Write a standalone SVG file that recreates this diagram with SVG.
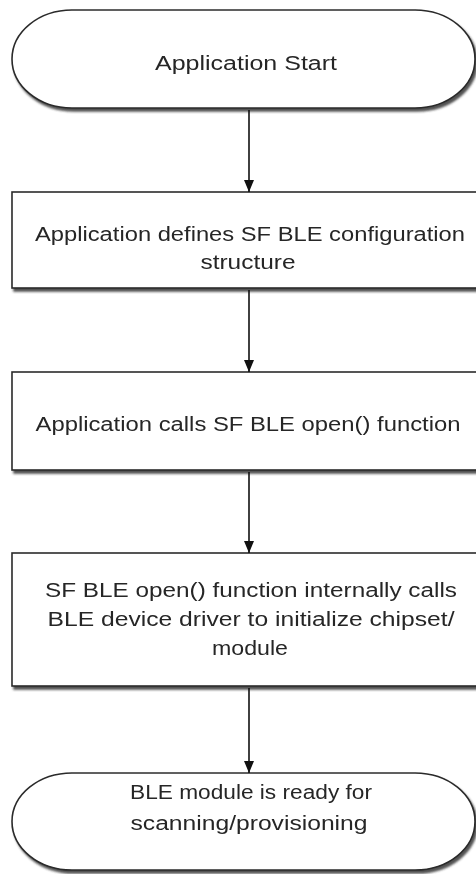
<svg xmlns="http://www.w3.org/2000/svg" width="476" height="874" viewBox="0 0 476 874">
<style>
.shape{fill:#ffffff;stroke:#2b2b2b;stroke-width:1.6}
.t{font-family:"Liberation Sans",Arial,sans-serif;font-size:20px;fill:#262626;text-anchor:middle}
.c{stroke:#111;stroke-width:1.6;fill:none}
</style>
<defs>
<filter id="sh" x="-5%" y="-10%" width="110%" height="130%">
<feGaussianBlur in="SourceAlpha" stdDeviation="1"/>
<feOffset dx="1.5" dy="3" result="b"/>
<feFlood flood-color="#333" flood-opacity="0.85"/>
<feComposite in2="b" operator="in" result="s"/>
<feMerge><feMergeNode in="s"/><feMergeNode in="SourceGraphic"/></feMerge>
</filter>
<marker id="ah" viewBox="0 0 12 10" refX="12" refY="5" markerWidth="12" markerHeight="10" markerUnits="userSpaceOnUse" orient="auto">
<path d="M0,0 L12,5 L0,10 Z" fill="#111"/>
</marker>
</defs>
<rect width="476" height="874" fill="#ffffff"/>
<g id="n1" filter="url(#sh)">
<rect class="shape" x="12" y="10" width="463" height="98" rx="60" ry="49"/>
<text class="t" x="246" y="70" textLength="182" lengthAdjust="spacingAndGlyphs">Application Start</text>
</g>
<g id="n2" filter="url(#sh)">
<rect class="shape" x="12" y="192" width="476" height="96"/>
<text class="t" x="250" y="241" textLength="430" lengthAdjust="spacingAndGlyphs">Application defines SF BLE configuration</text>
<text class="t" x="248" y="269" textLength="95" lengthAdjust="spacingAndGlyphs">structure</text>
</g>
<g id="n3" filter="url(#sh)">
<rect class="shape" x="12" y="372" width="476" height="98"/>
<text class="t" x="248" y="431" textLength="425" lengthAdjust="spacingAndGlyphs">Application calls SF BLE open() function</text>
</g>
<g id="n4" filter="url(#sh)">
<rect class="shape" x="12" y="553" width="476" height="133"/>
<text class="t" x="251" y="597" textLength="412" lengthAdjust="spacingAndGlyphs">SF BLE open() function internally calls</text>
<text class="t" x="251" y="626" textLength="407" lengthAdjust="spacingAndGlyphs">BLE device driver to initialize chipset/</text>
<text class="t" x="250" y="655" textLength="76" lengthAdjust="spacingAndGlyphs">module</text>
</g>
<g id="n5" filter="url(#sh)">
<rect class="shape" x="12" y="773" width="463" height="97" rx="60" ry="48.5"/>
<text class="t" x="251" y="799" textLength="242" lengthAdjust="spacingAndGlyphs">BLE module is ready for</text>
<text class="t" x="249" y="830" textLength="237" lengthAdjust="spacingAndGlyphs">scanning/provisioning</text>
</g>
<g id="connectors">
<line class="c" x1="249" y1="110" x2="249" y2="192" marker-end="url(#ah)"/>
<line class="c" x1="249" y1="290" x2="249" y2="372" marker-end="url(#ah)"/>
<line class="c" x1="249" y1="472" x2="249" y2="553" marker-end="url(#ah)"/>
<line class="c" x1="249" y1="688" x2="249" y2="773" marker-end="url(#ah)"/>
</g>
</svg>
